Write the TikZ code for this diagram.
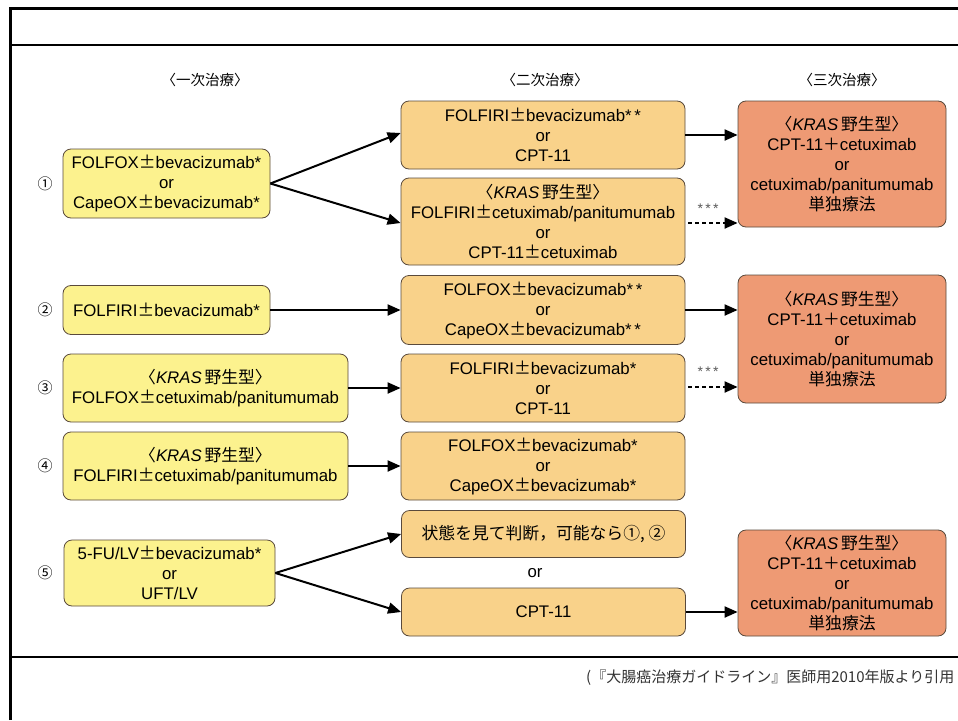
\documentclass[tikz,border=0pt]{standalone}
\usepackage{fontspec}
\setmainfont{Liberation Sans}
\newfontfamily\cjk{Noto Sans CJK JP}
\usetikzlibrary{arrows.meta,calc}
\definecolor{yfill}{HTML}{FCF28E}
\definecolor{ofill}{HTML}{F9D28A}
\definecolor{sfill}{HTML}{EE9A74}
\definecolor{bline}{HTML}{5A4A3C}
\newcommand\PMS{{\cjk ±}}
\newcommand\kras{{\cjk 〈}\textit{KRAS}\,{\cjk 野生型〉}}
\newcommand\FP{{\cjk ＋}}
\begin{document}
\begin{tikzpicture}[x=1pt,y=-1pt,
  box/.style={draw=bline,line width=0.8pt,rounded corners=8pt,align=center,
     inner sep=2pt,font=\fontsize{16.8}{20}\selectfont},
  ybox/.style={box,fill=yfill},
  obox/.style={box,fill=ofill},
  sbox/.style={box,fill=sfill},
  arr/.style={line width=2pt,-{Triangle[length=13pt,width=11pt]}},
  darr/.style={arr,dash pattern=on 4pt off 3pt},
  num/.style={font=\cjk\fontsize{15}{15}\selectfont},
  hdr/.style={font=\cjk\fontsize{14.5}{15}\selectfont},
  star/.style={font=\fontsize{14}{14}\selectfont,text=black!65}]
\useasboundingbox (0,0) rectangle (958,720);
\fill[white] (0,0) rectangle (958,720);
% frame
\draw[line width=3pt] (10,720) -- (10,8) -- (958,8);
\draw[line width=1.6pt] (10,45) -- (958,45);
\draw[line width=1.6pt] (10,657) -- (958,657);
% headers
\node[hdr] (h1) at (205,80) {〈一次治療〉};
\node[hdr] (h2) at (545,80) {〈二次治療〉};
\node[hdr] (h3) at (842,80) {〈三次治療〉};
% numbers
\node[num] (n1) at (45,183.5) {①};
\node[num] (n2) at (45,310) {②};
\node[num] (n3) at (45,388) {③};
\node[num] (n4) at (45,466) {④};
\node[num] (n5) at (45,573) {⑤};
% first line
\node[ybox,minimum width=207pt,minimum height=69pt] (a1) at (166.5,183.5)
  {FOLFOX\PMS bevacizumab*\\or\\CapeOX\PMS bevacizumab*};
\node[ybox,minimum width=207pt,minimum height=49pt] (c1) at (166.5,310)
  {FOLFIRI\PMS bevacizumab*};
\node[ybox,minimum width=285pt,minimum height=68pt] (d1) at (205.5,388)
  {\kras\\FOLFOX\PMS cetuximab/panitumumab};
\node[ybox,minimum width=285pt,minimum height=68pt] (e1) at (205.5,466)
  {\kras\\FOLFIRI\PMS cetuximab/panitumumab};
\node[ybox,minimum width=211pt,minimum height=66pt] (g1) at (169.5,573)
  {5-FU/LV\PMS bevacizumab*\\or\\UFT/LV};
% second line
\node[obox,minimum width=284pt,minimum height=68pt] (a2) at (543,135)
  {FOLFIRI\PMS bevacizumab*\,*\\or\\CPT-11};
\node[obox,minimum width=284pt,minimum height=87pt] (b2) at (543,221.5)
  {\kras\\FOLFIRI\PMS cetuximab/panitumumab\\or\\CPT-11\PMS cetuximab};
\node[obox,minimum width=284pt,minimum height=69pt] (c2) at (543,310)
  {FOLFOX\PMS bevacizumab*\,*\\or\\CapeOX\PMS bevacizumab*\,*};
\node[obox,minimum width=284pt,minimum height=68pt] (d2) at (543,388)
  {FOLFIRI\PMS bevacizumab*\\or\\CPT-11};
\node[obox,minimum width=284pt,minimum height=68pt] (e2) at (543,466)
  {FOLFOX\PMS bevacizumab*\\or\\CapeOX\PMS bevacizumab*};
\node[obox,minimum width=284pt,minimum height=47pt] (s2) at (543.5,534)
  {{\cjk 状態を見て判断，可能なら①, ②}};
\node[font=\fontsize{16.8}{20}\selectfont] (or5) at (535,573) {or};
\node[obox,minimum width=284pt,minimum height=48pt] (f2) at (543.5,612)
  {CPT-11};
% third line
\node[sbox,minimum width=208pt,minimum height=126pt] (o1) at (842,164)
  {\kras\\CPT-11\FP cetuximab\\or\\cetuximab/panitumumab\\{\cjk 単独療法}};
\node[sbox,minimum width=208pt,minimum height=128pt] (o2) at (842,339)
  {\kras\\CPT-11\FP cetuximab\\or\\cetuximab/panitumumab\\{\cjk 単独療法}};
\node[sbox,minimum width=208pt,minimum height=106pt] (o3) at (842,583)
  {\kras\\CPT-11\FP cetuximab\\or\\cetuximab/panitumumab\\{\cjk 単独療法}};
% connectors
\draw[arr] (a1.east) -- ($(a2.west)+(0,-2)$);
\draw[arr] (a1.east) -- ($(b2.west)+(0,1.5)$);
\draw[arr] (c1.east) -- (c2.west);
\draw[arr] (d1.east) -- (d2.west);
\draw[arr] (e1.east) -- (e2.west);
\draw[arr] (g1.east) -- (s2.west);
\draw[arr] (g1.east) -- (f2.west);
\draw[arr] (a2.east) -- (a2.east -| o1.west);
\coordinate (bd) at ($(b2.east)+(3,1.5)$);
\draw[darr] (bd) -- (bd -| o1.west);
\draw[arr] (c2.east) -- (c2.east -| o2.west);
\coordinate (dd) at ($(d2.east)+(3,-1)$);
\draw[darr] (dd) -- (dd -| o2.west);
\draw[arr] (f2.east) -- (f2.east -| o3.west);
\node[star] (st1) at (708,209) {*\,*\,*};
\node[star] (st2) at (708,372) {*\,*\,*};
% source
\node[font=\cjk\fontsize{15}{15}\selectfont,anchor=west,text=black!80,inner sep=0pt] (src) at (586,678)
  {(『大腸癌治療ガイドライン』医師用2010年版より引用};
\end{tikzpicture}
\end{document}
